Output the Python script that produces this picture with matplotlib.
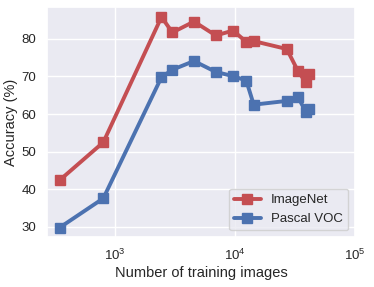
import matplotlib
matplotlib.use("Agg")
import matplotlib.pyplot as plt
import seaborn as sns

# ── data ──────────────────────────────────────────────────────────────────
n_images = [343, 795, 2430, 3000, 4540, 6900, 9620, 12400, 14300,
            27000, 33400, 38900, 41700]
imagenet = [42.4, 52.5, 85.8, 81.7, 84.6, 80.9, 82.2, 79.2, 79.4,
            77.3, 71.5, 68.4, 70.6]
pascal_voc = [29.8, 37.6, 69.8, 71.8, 74.1, 71.2, 70.1, 68.9, 62.5,
              63.5, 64.6, 60.6, 61.3]

RED = "#C44E52"
BLUE = "#4C72B0"

sns.set_theme(style="darkgrid")
plt.rcParams["font.family"] = ["Liberation Sans", "DejaVu Sans"]

fig = plt.figure(figsize=(3.74, 2.87), dpi=100)
ax = fig.add_axes([0.126, 0.174, 0.823, 0.802])

ax.plot(n_images, imagenet, color=RED, marker="s", markersize=6.5,
        linewidth=2.8, label="ImageNet")
ax.plot(n_images, pascal_voc, color=BLUE, marker="s", markersize=6.5,
        linewidth=2.8, label="Pascal VOC")

ax.set_xscale("log")
ax.set_xlim(270, 1e5)
ax.set_ylim(27.3, 88.5)
ax.set_yticks([30, 40, 50, 60, 70, 80])
ax.tick_params(labelsize=9.5, pad=2)
ax.set_xlabel("Number of training images", fontsize=10.5, labelpad=2)
ax.set_ylabel("Accuracy (%)", fontsize=10.5, labelpad=2)
ax.legend(loc="lower right", fontsize=9.5, frameon=True)

fig.savefig("out.png", dpi=100)
